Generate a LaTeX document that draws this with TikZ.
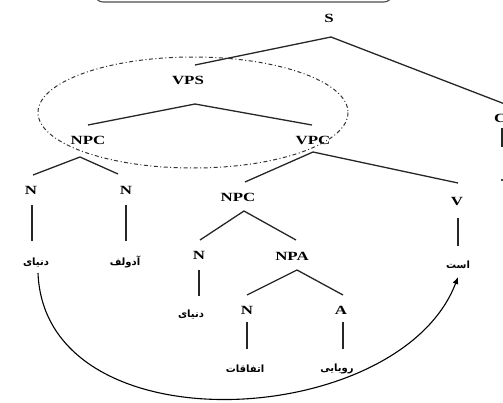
\documentclass[tikz,border=0pt]{standalone}
\usepackage{fontspec}
\setmainfont[FakeStretch=1.35]{Liberation Serif}
\newfontfamily\arabicfont[Script=Arabic]{DejaVu Sans Bold}
\TeXXeTstate=1
\usetikzlibrary{arrows.meta}
\tikzset{
  cat/.style={font=\fontsize{12.5}{14}\selectfont\bfseries, inner sep=1pt},
  word/.style={font=\arabicfont\fontsize{10}{12}\selectfont, inner sep=1pt},
  branch/.style={line width=1.3pt, black!85},
  ring/.style={line width=1pt, black!80, dash pattern=on 4pt off 2.5pt on 1pt off 2.5pt},
  link/.style={line width=1.1pt, -{Latex[length=7pt,width=6pt]}}
}
\newcommand{\fa}[1]{\beginR #1\endR}
\begin{document}
\begin{tikzpicture}[x=1pt, y=-1pt]
\useasboundingbox (0,0) rectangle (503,402);
\clip (0,0) rectangle (503,402);

% caption box at the top edge
\draw[line width=1.1pt, black!70, rounded corners=8pt] (95,-30) rectangle (392,2);

% category nodes
\node[cat] (S)    at (329,18)  {S};
\node[cat] (VPS)  at (188,80)  {VPS};
\node[cat] (NPC1) at (88,140)  {NPC};
\node[cat] (VPC)  at (313,140) {VPC};
\node[cat] (N1)   at (31,190)  {N};
\node[cat] (N2)   at (126,190) {N};
\node[cat] (NPC2) at (238,197) {NPC};
\node[cat] (V)    at (457,201) {V};
\node[cat] (N3)   at (199,255) {N};
\node[cat] (NPA)  at (292,256) {NPA};
\node[cat] (N4)   at (247,310) {N};
\node[cat] (A)    at (341,310) {A};
\node[cat, anchor=west] (C) at (493,118) {C};

% words
\node[word] (w1) at (36,263)  {\fa{دنیای}};
\node[word] (w2) at (125,262) {\fa{آدولف}};
\node[word] (w3) at (458,265) {\fa{است}};
\node[word] (w4) at (191,315) {\fa{دنیای}};
\node[word] (w5) at (245,369) {\fa{اتفاقات}};
\node[word] (w6) at (337,369) {\fa{رویایی}};

% joints of the branches
\coordinate (jS)   at (331,37);
\coordinate (jVPS) at (195,104);
\coordinate (jNPC) at (80,157);
\coordinate (jVPC) at (313,152);
\coordinate (jNP2) at (244,211);
\coordinate (jNPA) at (297,270);
\coordinate (eVPS) at (195,65);
\coordinate (eC)   at (510,106);

% branches
\draw[branch] (eVPS) -- (jS) -- (eC);
\draw[branch] (88,125) -- (jVPS) -- (312,125);
\draw[branch] (33,175) -- (jNPC) -- (118,174);
\draw[branch] (245,182) -- (jVPC) -- (458,183);
\draw[branch] (200,240) -- (jNP2) -- (296,240);
\draw[branch] (247,295) -- (jNPA) -- (343,295);

% lexical stems
\draw[branch] (32,205) -- (32,241);
\draw[branch] (126,205) -- (126,241);
\draw[branch] (458,218) -- (458,246);
\draw[branch] (199,270) -- (199,296);
\draw[branch] (247,322) -- (247,349);
\draw[branch] (343,322) -- (343,349);
\draw[branch] (502,128) -- (502,147);
\fill (502,180) circle (1.2pt);

% dash-dotted ring round the VPS subtree
\draw[ring] (193,112.5) ellipse [x radius=155, y radius=55.5];

% dependency arc
\draw[link] (38,273) .. controls (45,450) and (400,430) .. (458,277);
\end{tikzpicture}
\end{document}
